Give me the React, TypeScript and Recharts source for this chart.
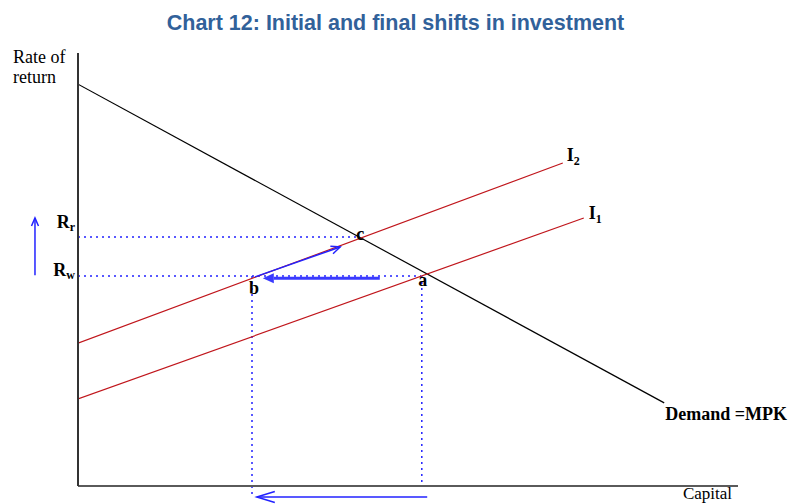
import React from "react";
import {
  ComposedChart,
  Line,
  XAxis,
  YAxis,
  ReferenceLine,
  ReferenceDot,
} from "recharts";

// capital (k) vs rate of return (r)
const demandCurve = [
  { k: 0, r: 92.8 },
  { k: 97.7, r: 19.2 },
];
const investment1 = [
  { k: 0, r: 20.1 },
  { k: 84.3, r: 61.9 },
];
const investment2 = [
  { k: 0, r: 33.0 },
  { k: 80.8, r: 74.6 },
];

const rateTicks = [48.5, 57.5];
const rateTickSubs = ["w", "r"];

const pointA = { k: 57.3, r: 48.5 };
const pointB = { k: 29.0, r: 48.5 };
const pointC = { k: 47.2, r: 57.3 };

// dotted guides
const rrGuide = [
  { k: 0, r: 57.5 },
  { k: 46.5, r: 57.5 },
];
const rwGuide = [
  { k: 0, r: 48.5 },
  { k: 57.2, r: 48.5 },
];
const aDrop = [
  { k: 57.3, r: 48.5 },
  { k: 57.3, r: 0 },
];
const bDrop = [
  { k: 29.0, r: 48.5 },
  { k: 29.0, r: -1.85 },
];

// shift arrows (tail, head)
const riseArrow = [
  { k: -7.17, r: 48.7 },
  { k: -7.17, r: 61.9 },
];
const capitalArrow = [
  { k: 58.2, r: -2.54 },
  { k: 29.8, r: -2.54 },
];
const alongI2Arrow = [
  { k: 29.5, r: 48.3 },
  { k: 43.7, r: 55.2 },
];
const backArrow = [
  { k: 50.3, r: 48.0 },
  { k: 30.8, r: 48.0 },
];

const BLUE = "#2222ff";
const RED = "#c0161c";
const SERIF = "'Liberation Serif', 'Times New Roman', serif";

const seg = (pts: { k: number; r: number }[]) =>
  pts.map((p) => ({ x: p.k, y: p.r }));

function arrowShape(head: number, half: number, filled: boolean) {
  return (p: any) => {
    const { x1, y1, x2, y2, stroke, strokeWidth } = p;
    const ang = Math.atan2(y2 - y1, x2 - x1);
    const bx = x2 - head * Math.cos(ang);
    const by = y2 - head * Math.sin(ang);
    const nx = -Math.sin(ang) * half;
    const ny = Math.cos(ang) * half;
    const w1 = `${bx + nx},${by + ny}`;
    const w2 = `${bx - nx},${by - ny}`;
    return (
      <g>
        <line
          x1={x1}
          y1={y1}
          x2={filled ? bx : x2}
          y2={filled ? by : y2}
          stroke={stroke}
          strokeWidth={strokeWidth}
        />
        {filled ? (
          <polygon points={`${x2},${y2} ${w1} ${w2}`} fill={stroke} />
        ) : (
          <polyline
            points={`${w1} ${x2},${y2} ${w2}`}
            fill="none"
            stroke={stroke}
            strokeWidth={strokeWidth}
          />
        )}
      </g>
    );
  };
}

function labelShape(
  text: string,
  sub: string | null,
  dx: number,
  dy: number,
  opts: { bold?: boolean; size?: number; anchor?: string } = {}
) {
  const { bold = true, size = 18, anchor = "start" } = opts;
  return (p: any) => (
    <text
      x={p.cx + dx}
      y={p.cy + dy}
      fontFamily={SERIF}
      fontWeight={bold ? 700 : 400}
      fontSize={size}
      fill="#000"
      textAnchor={anchor}
    >
      <tspan>{text}</tspan>
      {sub && (
        <tspan fontSize={12} dy={4}>
          {sub}
        </tspan>
      )}
    </text>
  );
}

function RateTick(props: any) {
  const { x, y, payload } = props;
  const i = rateTicks.indexOf(payload.value);
  const lift = i === 1 ? -9 : 0;
  return (
    <text
      x={x - 3}
      y={y + lift}
      textAnchor="end"
      fontFamily={SERIF}
      fontWeight={700}
      fontSize={18}
      fill="#000"
    >
      <tspan>R</tspan>
      <tspan fontSize={12} dy={3}>
        {rateTickSubs[i]}
      </tspan>
    </text>
  );
}

export default function App() {
  return (
    <div
      style={{
        position: "absolute",
        left: 0,
        top: 0,
        width: 791,
        height: 504,
        background: "#fff",
      }}
    >
      <div
        style={{
          position: "absolute",
          left: 0,
          top: 13,
          width: 791,
          textAlign: "center",
          fontFamily: "'Liberation Sans', Arial, sans-serif",
          fontWeight: 700,
          fontSize: 21.5,
          lineHeight: "21.5px",
          color: "#31619a",
        }}
      >
        Chart 12: Initial and final shifts in investment
      </div>
      <div style={{ position: "absolute", left: 0, top: 0 }}>
        <ComposedChart
          width={791}
          height={504}
          margin={{ top: 53, right: 53, bottom: 17, left: 77 }}
        >
          <XAxis
            dataKey="k"
            type="number"
            domain={[0, 110]}
            allowDataOverflow
            height={1}
            tick={false}
            tickLine={false}
            axisLine={{ stroke: "#5a5a5a", strokeWidth: 2 }}
          />
          <YAxis
            type="number"
            domain={[0, 100]}
            allowDataOverflow
            width={1}
            ticks={rateTicks}
            tick={<RateTick />}
            tickLine={false}
            tickSize={0}
            tickMargin={0}
            interval={0}
            axisLine={{ stroke: "#333", strokeWidth: 2 }}
          />

          <ReferenceLine segment={seg(rrGuide)} stroke={BLUE} strokeWidth={1.5} strokeDasharray="2 4" />
          <ReferenceLine segment={seg(rwGuide)} stroke={BLUE} strokeWidth={1.5} strokeDasharray="2 4" />
          <ReferenceLine segment={seg(aDrop)} stroke={BLUE} strokeWidth={1.5} strokeDasharray="2 4" />
          <ReferenceLine segment={seg(bDrop)} stroke={BLUE} strokeWidth={1.5} strokeDasharray="2 4" ifOverflow="visible" />

          <Line data={demandCurve} dataKey="r" stroke="#000" strokeWidth={1.2} dot={false} isAnimationActive={false} />
          <Line data={investment1} dataKey="r" stroke={RED} strokeWidth={1.2} dot={false} isAnimationActive={false} />
          <Line data={investment2} dataKey="r" stroke={RED} strokeWidth={1.2} dot={false} isAnimationActive={false} />

          <ReferenceLine segment={seg(riseArrow)} stroke={BLUE} strokeWidth={1.5} ifOverflow="visible" shape={arrowShape(8, 3.5, false)} />
          <ReferenceLine segment={seg(capitalArrow)} stroke={BLUE} strokeWidth={1.5} ifOverflow="visible" shape={arrowShape(18, 5.5, false)} />
          <ReferenceLine segment={seg(alongI2Arrow)} stroke={BLUE} strokeWidth={1.5} shape={arrowShape(9, 4, false)} />
          <ReferenceLine segment={seg(backArrow)} stroke="#3a3aff" strokeWidth={3} shape={arrowShape(11, 5, true)} />

          <ReferenceDot x={pointC.k} y={pointC.r} r={0} shape={labelShape("c", null, -1, 2, { anchor: "middle" })} />
          <ReferenceDot x={pointA.k} y={pointA.r} r={0} shape={labelShape("a", null, 1, 10, { anchor: "middle" })} />
          <ReferenceDot x={pointB.k} y={pointB.r} r={0} shape={labelShape("b", null, 2, 18, { anchor: "middle" })} />
          <ReferenceDot x={investment2[1].k} y={investment2[1].r} r={0} shape={labelShape("I", "2", 4, -2)} />
          <ReferenceDot x={investment1[1].k} y={investment1[1].r} r={0} shape={labelShape("I", "1", 5, 1)} />
          <ReferenceDot x={demandCurve[1].k} y={demandCurve[1].r} r={0} shape={labelShape("Demand =MPK", null, 1, 17)} />
          <ReferenceDot x={0} y={100} r={0} shape={labelShape("Rate of", null, -65, 10, { bold: false })} />
          <ReferenceDot x={0} y={100} r={0} shape={labelShape("return", null, -65, 30, { bold: false })} />
          <ReferenceDot x={110} y={0} r={0} shape={labelShape("Capital", null, -6, 13, { bold: false, size: 17, anchor: "end" })} />
        </ComposedChart>
      </div>
    </div>
  );
}
